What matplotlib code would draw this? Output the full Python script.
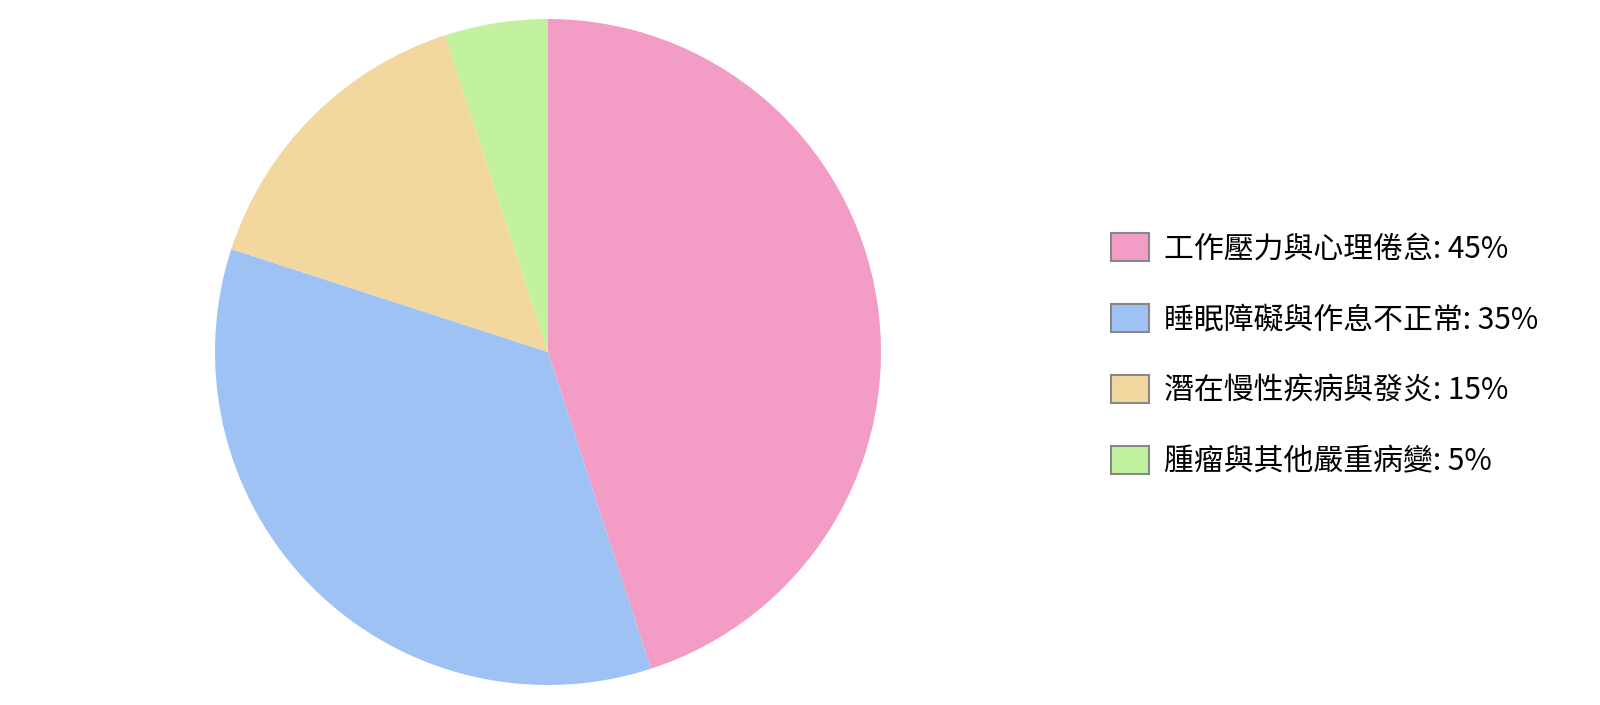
import matplotlib
matplotlib.use("Agg")
import matplotlib.pyplot as plt
from matplotlib.patches import Patch

plt.rcParams['font.family'] = ['Noto Sans CJK TC', 'DejaVu Sans']

categories = ["工作壓力與心理倦怠", "睡眠障礙與作息不正常", "潛在慢性疾病與發炎", "腫瘤與其他嚴重病變"]
values = [45, 35, 15, 5]
colors = ["#F29CC6", "#9FC2F4", "#F2D89F", "#C2F29F"]

W, H = 1600, 705
fig = plt.figure(figsize=(W / 100, H / 100), dpi=100)
cx, cy, r = 548, 352, 333
ax = fig.add_axes([(cx - r) / W, (H - cy - r) / H, 2 * r / W, 2 * r / H])
ax.pie(values, colors=colors, startangle=90, counterclock=False,
       wedgeprops=dict(linewidth=0))
ax.set_xlim(-1, 1)
ax.set_ylim(-1, 1)
ax.set_aspect('equal')

handles = [Patch(facecolor=c, edgecolor="#888888", linewidth=1.5) for c in colors]
labels = [f"{c}: {v}%" for c, v in zip(categories, values)]
fs = 21.5
fig.legend(handles, labels, loc="center left", bbox_to_anchor=(1111 / W, 1 - 355 / H),
           frameon=False, fontsize=fs, handlelength=1.27, handleheight=1.07,
           handletextpad=0.5, labelspacing=1.33, borderpad=0, borderaxespad=0)

fig.savefig("out.png", dpi=100)
